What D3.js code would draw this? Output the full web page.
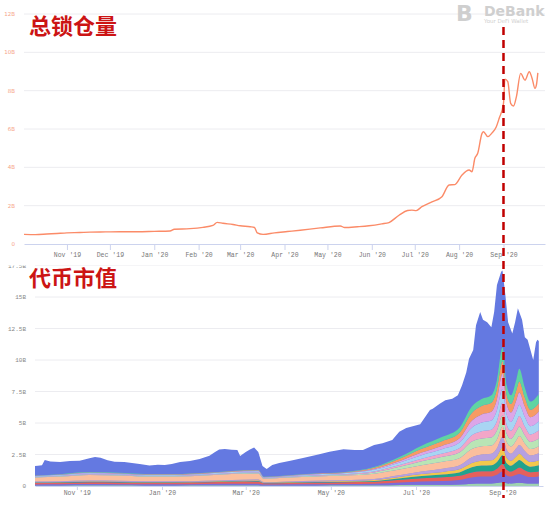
<!DOCTYPE html>
<html><head><meta charset="utf-8">
<script src="https://cdn.jsdelivr.net/npm/d3@7"></script>
<style>
html,body{margin:0;padding:0;background:#fff;}
svg{display:block;}
</style></head>
<body>
<svg id="chart" width="554" height="505"></svg>
<script>
// ---------- DATA ----------
const topTitle = "总锁仓量";
const botTitle = "代币市值";
const topYTicks = [0, 2, 4, 6, 8, 10, 12];
const topYLabels = ["0", "2B", "4B", "6B", "8B", "10B", "12B"];
const botYTicks = [0, 2.5, 5, 7.5, 10, 12.5, 15, 17.5];
const botYLabels = ["0", "2.5B", "5B", "7.5B", "10B", "12.5B", "15B", "17.5B"];
const topXTicks = ["2019-11-01","2019-12-01","2020-01-01","2020-02-01","2020-03-01","2020-04-01","2020-05-01","2020-06-01","2020-07-01","2020-08-01","2020-09-01"];
const botXTicks = ["2019-11-01","2020-01-01","2020-03-01","2020-05-01","2020-07-01","2020-09-01"];
const markerDate = "2020-09-01";

// total value locked (B USD)
const tvlDates = ["2019-10-02","2019-10-10","2019-10-18","2019-10-25","2019-11-01","2019-11-10","2019-11-17","2019-11-28","2019-12-08","2019-12-20","2020-01-01","2020-01-12","2020-01-15","2020-01-26","2020-02-04","2020-02-11","2020-02-14","2020-02-18","2020-02-25","2020-03-01","2020-03-08","2020-03-11","2020-03-13","2020-03-17","2020-03-25","2020-04-03","2020-04-12","2020-04-26","2020-05-10","2020-05-13","2020-05-22","2020-05-30","2020-06-08","2020-06-13","2020-06-20","2020-06-26","2020-06-29","2020-07-02","2020-07-06","2020-07-13","2020-07-20","2020-07-25","2020-07-29","2020-08-03","2020-08-08","2020-08-10","2020-08-12","2020-08-14","2020-08-17","2020-08-18","2020-08-21","2020-08-24","2020-08-27","2020-08-29","2020-09-01","2020-09-02","2020-09-04","2020-09-06","2020-09-08","2020-09-10","2020-09-13","2020-09-16","2020-09-19","2020-09-21","2020-09-23","2020-09-24","2020-09-25"];
const tvlValues = [0.50,0.49,0.52,0.55,0.58,0.60,0.62,0.63,0.64,0.64,0.66,0.68,0.77,0.80,0.87,0.97,1.13,1.08,1.02,0.95,0.90,0.86,0.58,0.50,0.58,0.65,0.72,0.84,0.94,0.86,0.90,0.95,1.05,1.12,1.50,1.75,1.77,1.74,1.95,2.20,2.47,3.08,3.10,3.60,3.86,3.77,4.47,4.73,5.77,5.86,5.60,5.80,6.12,6.56,7.34,8.60,8.47,7.34,7.20,7.68,8.90,8.55,8.99,8.64,8.12,8.30,8.93];

// total token market cap (B USD) -- blue area top
const mcapDates = ["2019-10-02","2019-10-04","2019-10-07","2019-10-09","2019-10-13","2019-10-20","2019-10-27","2019-11-03","2019-11-10","2019-11-14","2019-11-18","2019-11-23","2019-11-28","2019-12-05","2019-12-16","2019-12-23","2019-12-29","2020-01-03","2020-01-08","2020-01-14","2020-01-21","2020-01-28","2020-02-04","2020-02-08","2020-02-11","2020-02-15","2020-02-20","2020-02-24","2020-02-26","2020-03-01","2020-03-04","2020-03-07","2020-03-10","2020-03-13","2020-03-16","2020-03-20","2020-03-25","2020-04-02","2020-04-11","2020-04-22","2020-04-30","2020-05-10","2020-05-18","2020-05-24","2020-06-01","2020-06-07","2020-06-14","2020-06-19","2020-06-24","2020-07-04","2020-07-11","2020-07-13","2020-07-18","2020-07-22","2020-07-27","2020-07-31","2020-08-03","2020-08-06","2020-08-08","2020-08-11","2020-08-13","2020-08-16","2020-08-18","2020-08-21","2020-08-24","2020-08-26","2020-08-28","2020-08-31","2020-09-01","2020-09-03","2020-09-05","2020-09-08","2020-09-10","2020-09-12","2020-09-15","2020-09-17","2020-09-19","2020-09-22","2020-09-23","2020-09-25","2020-09-26","2020-09-27"];
const mcapTotal = [1.59,1.60,1.65,2.06,1.95,1.90,1.98,2.00,2.20,2.30,2.25,2.05,1.93,1.90,1.75,1.63,1.68,1.67,1.75,1.90,1.98,2.14,2.40,2.70,2.90,2.94,2.88,2.86,2.38,2.70,2.90,3.05,2.70,1.59,1.35,1.67,1.83,2.00,2.22,2.50,2.72,2.91,2.85,2.86,3.25,3.39,3.65,4.30,4.60,4.90,6.03,6.13,6.53,6.80,6.93,7.20,7.99,9.00,10.10,10.80,12.75,13.80,13.20,13.00,12.60,13.80,15.95,17.00,17.10,15.20,13.00,12.10,13.00,14.10,13.20,11.80,11.60,10.40,10.00,11.40,11.60,11.50];

// other tokens (stacked, bottom to top)
const layerDates = ["2019-10-02","2019-10-20","2019-11-10","2019-12-01","2019-12-20","2020-01-10","2020-02-01","2020-02-20","2020-03-10","2020-03-14","2020-04-01","2020-04-20","2020-05-10","2020-06-01","2020-06-20","2020-07-05","2020-07-20","2020-08-01","2020-08-10","2020-08-17","2020-08-24","2020-08-28","2020-09-01","2020-09-04","2020-09-07","2020-09-11","2020-09-13","2020-09-17","2020-09-21","2020-09-27"];
const tokenA = [.04,.04,.05,.05,.04,.04,.05,.05,.05,.03,.04,.04,.05,.05,.07,.09,.10,.12,.18,.20,.20,.24,.30,.22,.20,.24,.26,.22,.19,.20];
const tokenB = [.08,.09,.10,.09,.09,.09,.10,.12,.13,.08,.09,.10,.11,.13,.20,.26,.30,.36,.50,.55,.56,.65,.85,.62,.55,.65,.70,.60,.52,.56];
const tokenC = [.12,.13,.15,.14,.13,.13,.14,.16,.17,.10,.11,.13,.14,.16,.22,.26,.30,.33,.40,.42,.42,.48,.60,.45,.40,.46,.50,.43,.38,.40];
const tokenD = [.03,.03,.03,.03,.03,.03,.03,.04,.05,.03,.03,.04,.04,.06,.12,.18,.22,.27,.40,.45,.46,.54,.70,.52,.46,.55,.60,.50,.44,.48];
const tokenE = [.03,.03,.04,.04,.03,.03,.04,.04,.05,.03,.04,.04,.05,.07,.12,.16,.20,.24,.35,.38,.40,.46,.60,.44,.40,.46,.50,.43,.37,.40];
const tokenF = [.05,.05,.06,.06,.05,.05,.06,.07,.07,.04,.05,.06,.07,.09,.14,.20,.25,.30,.45,.50,.52,.62,.85,.62,.55,.65,.70,.60,.52,.56];
const tokenG = [.33,.38,.45,.42,.38,.38,.41,.47,.48,.27,.31,.35,.37,.42,.45,.50,.55,.58,.65,.65,.65,.70,.80,.62,.58,.65,.70,.60,.52,.56];
const tokenH = [.03,.04,.04,.04,.04,.04,.04,.05,.05,.03,.04,.05,.06,.10,.22,.32,.40,.46,.60,.62,.64,.72,.90,.66,.60,.70,.76,.64,.55,.60];
const tokenI = [.03,.03,.04,.04,.03,.03,.04,.04,.05,.03,.04,.05,.05,.08,.14,.20,.26,.33,.50,.58,.62,.75,1.00,.72,.64,.76,.83,.70,.60,.66];
const tokenJ = [.04,.05,.06,.05,.05,.05,.06,.07,.07,.04,.05,.06,.07,.12,.20,.28,.36,.44,.60,.68,.72,.85,1.10,.78,.70,.83,.90,.76,.66,.72];
const tokenK = [.02,.02,.03,.03,.03,.03,.03,.03,.04,.02,.02,.03,.03,.06,.12,.20,.26,.33,.55,.65,.70,.85,1.20,.85,.76,.90,1.00,.82,.70,.77];
const tokenL = [.02,.03,.03,.03,.03,.03,.03,.04,.04,.02,.02,.03,.03,.10,.20,.30,.38,.45,.62,.67,.71,.82,1.00,.72,.66,.78,.85,.70,.60,.66];
const tokenM = [.02,.02,.03,.03,.02,.02,.02,.02,.02,.02,.02,.02,.03,.06,.14,.25,.32,.39,.50,.55,.60,.72,1.10,.78,.70,.87,1.00,.80,.65,.73];
const layerNames = ["tokenA","tokenB","tokenC","tokenD","tokenE","tokenF","tokenG","tokenH","tokenI","tokenJ","tokenK","tokenL","tokenM"];
const layerSeries = [tokenA,tokenB,tokenC,tokenD,tokenE,tokenF,tokenG,tokenH,tokenI,tokenJ,tokenK,tokenL,tokenM];

// ---------- STYLE ----------
const layerColors = ["#9fd2b0","#7b6cd9","#e5605c","#22a38c","#f2c84c","#b6a0e0","#fbbf9e","#b9e5b5","#f2a6c8","#a9d5f3","#dca6e8","#f79b64","#5fd4a2"];
const blueColor = "#6479e1";
const lineColor = "#fb8b68";
const titleColor = "#cc1414";

const parse = d3.timeParse("%Y-%m-%d");
const svg = d3.select("#chart");
const domainX = [parse("2019-10-02"), parse("2020-09-30")];

// ================= TOP CHART =================
const xTop = d3.scaleTime().domain(domainX).range([24, 545]);
const yTop = d3.scaleLinear().domain([0, 12]).range([244, 14]);
const gTop = svg.append("g");

gTop.append("g").selectAll("line").data(topYTicks.filter(d => d > 0)).join("line")
  .attr("x1", 24).attr("x2", 545)
  .attr("y1", d => yTop(d)).attr("y2", d => yTop(d))
  .attr("stroke", "#ececf0").attr("stroke-width", 1);

gTop.append("g").selectAll("text").data(topYTicks).join("text")
  .attr("x", 15).attr("y", d => yTop(d)).attr("dy", "0.35em")
  .attr("text-anchor", "end")
  .attr("font-family", "DejaVu Sans, sans-serif").attr("font-size", 5.5)
  .attr("fill", "#f6a388")
  .text((d, i) => topYLabels[i]);

const axTop = gTop.append("g").attr("transform", "translate(0,244)")
  .call(d3.axisBottom(xTop).tickValues(topXTicks.map(parse))
    .tickFormat(d3.timeFormat("%b '%y")).tickSize(6).tickSizeOuter(0));
axTop.select(".domain").attr("stroke", "#ccd3ee");
axTop.selectAll(".tick line").attr("stroke", "#ccd3ee");
axTop.selectAll(".tick text").attr("font-family", "Liberation Mono, monospace")
  .attr("font-size", 6.5).attr("fill", "#777").attr("dy", "0.55em");

const tvlData = tvlDates.map((d, i) => ({ date: parse(d), v: tvlValues[i] }));
gTop.append("path").datum(tvlData)
  .attr("fill", "none").attr("stroke", lineColor).attr("stroke-width", 1.4)
  .attr("d", d3.line().x(d => xTop(d.date)).y(d => yTop(d.v)).curve(d3.curveMonotoneX));

// title
svg.append("text").attr("x", 29).attr("y", 34)
  .attr("font-family", "Noto Sans CJK SC, sans-serif").attr("font-weight", "bold")
  .attr("font-size", 22).attr("fill", titleColor).text(topTitle);

// DeBank logo
const logo = svg.append("g").attr("fill", "#cfcfcf");
logo.append("text").attr("x", 456).attr("y", 21)
  .attr("font-family", "DejaVu Sans, sans-serif").attr("font-weight", "bold")
  .attr("font-size", 22).text("B");
logo.append("text").attr("x", 484).attr("y", 16)
  .attr("font-family", "DejaVu Sans, sans-serif").attr("font-weight", "bold")
  .attr("font-size", 14).text("DeBank");
logo.append("text").attr("x", 484).attr("y", 22.5)
  .attr("font-family", "DejaVu Sans, sans-serif")
  .attr("font-size", 5.5).text("Your DeFi Wallet");

// ================= BOTTOM CHART =================
const xBot = d3.scaleTime().domain(domainX).range([35, 543]);
const yBot = d3.scaleLinear().domain([0, 17.5]).range([486, 265.5]);

svg.append("defs").append("clipPath").attr("id", "botclip")
  .append("rect").attr("x", 0).attr("y", 265.5).attr("width", 554).attr("height", 240);
const gBot = svg.append("g").attr("clip-path", "url(#botclip)");

gBot.append("g").selectAll("line").data(botYTicks.filter(d => d > 0)).join("line")
  .attr("x1", 35).attr("x2", 543)
  .attr("y1", d => yBot(d)).attr("y2", d => yBot(d))
  .attr("stroke", "#ececf0").attr("stroke-width", 1);

gBot.append("g").selectAll("text").data(botYTicks).join("text")
  .attr("x", 26).attr("y", d => yBot(d)).attr("dy", "0.35em")
  .attr("text-anchor", "end")
  .attr("font-family", "Liberation Mono, monospace").attr("font-size", 6)
  .attr("fill", "#888")
  .text((d, i) => botYLabels[i]);

// blue total area
const mcapData = mcapDates.map((d, i) => ({ date: parse(d), v: mcapTotal[i] }));
gBot.append("path").datum(mcapData)
  .attr("fill", blueColor)
  .attr("d", d3.area().x(d => xBot(d.date)).y0(yBot(0)).y1(d => yBot(d.v)).curve(d3.curveLinear));

// stacked token layers
const layerRows = layerDates.map((d, i) => {
  const row = { date: parse(d) };
  layerNames.forEach((n, k) => row[n] = layerSeries[k][i]);
  return row;
});
const stack = d3.stack().keys(layerNames)(layerRows);
const areaGen = d3.area().x(d => xBot(d.data.date)).y0(d => yBot(d[0])).y1(d => yBot(d[1])).curve(d3.curveMonotoneX);
gBot.append("g").selectAll("path").data(stack).join("path")
  .attr("fill", (d, i) => layerColors[i])
  .attr("d", areaGen);

const axBot = svg.append("g").attr("transform", "translate(0,486)")
  .call(d3.axisBottom(xBot).tickValues(botXTicks.map(parse))
    .tickFormat(d3.timeFormat("%b '%y")).tickSize(4).tickSizeOuter(0));
axBot.select(".domain").attr("stroke", "#ccd3ee");
axBot.selectAll(".tick line").attr("stroke", "#ccd3ee");
axBot.selectAll(".tick text").attr("font-family", "Liberation Mono, monospace")
  .attr("font-size", 6.5).attr("fill", "#777").attr("dy", "0.35em");

svg.append("text").attr("x", 29).attr("y", 286)
  .attr("font-family", "Noto Sans CJK SC, sans-serif").attr("font-weight", "bold")
  .attr("font-size", 22).attr("fill", titleColor).text(botTitle);

// dashed marker line
svg.append("line")
  .attr("x1", xTop(parse(markerDate))).attr("x2", xTop(parse(markerDate)))
  .attr("y1", 27).attr("y2", 498)
  .attr("stroke", "#c00000").attr("stroke-width", 2.5)
  .attr("stroke-dasharray", "8,5");
</script>
</body></html>
